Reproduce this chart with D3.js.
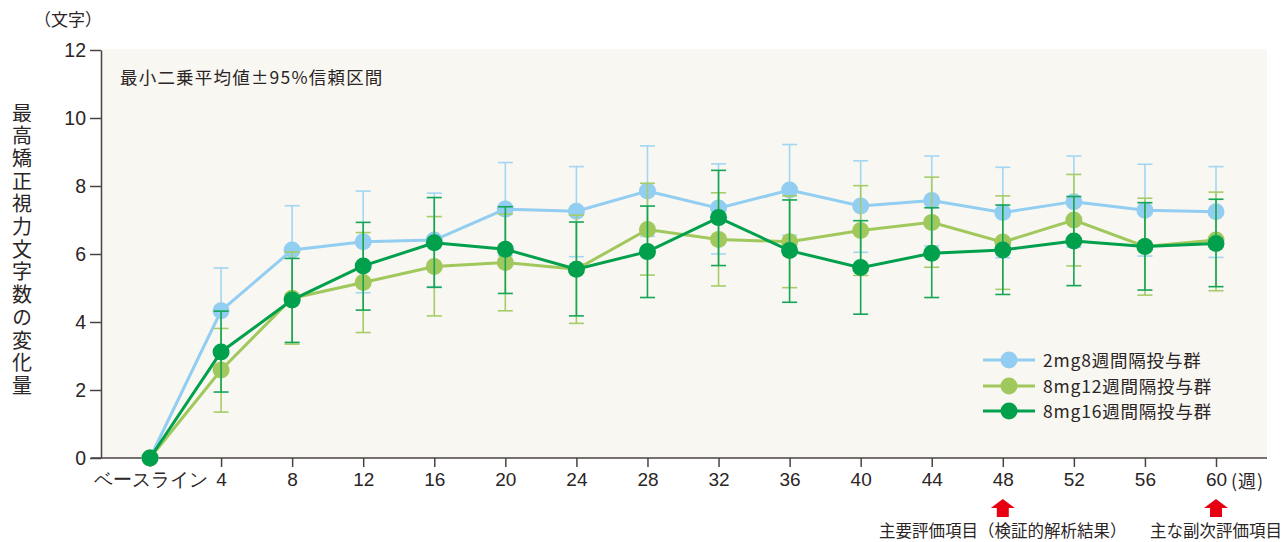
<!DOCTYPE html>
<html>
<head>
<meta charset="utf-8">
<script src="https://cdn.jsdelivr.net/npm/d3@7"></script>
<style>
  body { margin: 0; background: #fff; }
  svg { font-family: "Noto Sans CJK JP", "Noto Sans", sans-serif; }
</style>
</head>
<body>
<div id="chart"></div>
<script>
// weeks (0 = baseline)
var weeks = [0, 4, 8, 12, 16, 20, 24, 28, 32, 36, 40, 44, 48, 52, 56, 60];
var weekLabels = ["ベースライン", "4", "8", "12", "16", "20", "24", "28", "32", "36", "40", "44", "48", "52", "56", "60"];
var yTicks = [0, 2, 4, 6, 8, 10, 12];

var seriesNames = ["2mg8週間隔投与群", "8mg12週間隔投与群", "8mg16週間隔投与群"];

// least squares mean
var mean2mg8 = [0, 4.33, 6.12, 6.36, 6.41, 7.32, 7.26, 7.85, 7.35, 7.88, 7.41, 7.57, 7.22, 7.54, 7.29, 7.24];
var mean8mg12 = [0, 2.59, 4.70, 5.16, 5.63, 5.75, 5.55, 6.72, 6.43, 6.36, 6.69, 6.93, 6.35, 7.00, 6.22, 6.41];
var mean8mg16 = [0, 3.12, 4.65, 5.65, 6.33, 6.14, 5.55, 6.07, 7.07, 6.10, 5.60, 6.02, 6.12, 6.38, 6.22, 6.31];

// 95% CI upper / lower
var upper2mg8 = [0, 5.59, 7.42, 7.85, 7.79, 8.69, 8.57, 9.18, 8.65, 9.22, 8.74, 8.88, 8.55, 8.88, 8.64, 8.57];
var lower2mg8 = [0, 3.08, 4.82, 4.86, 5.04, 5.95, 5.92, 6.52, 6.00, 6.55, 6.05, 6.24, 5.89, 6.20, 5.94, 5.90];
var upper8mg12 = [0, 3.81, 6.06, 6.63, 7.10, 7.17, 7.14, 8.08, 7.80, 7.71, 8.01, 8.26, 7.71, 8.34, 7.64, 7.82];
var lower8mg12 = [0, 1.35, 3.35, 3.69, 4.18, 4.33, 3.96, 5.38, 5.06, 5.01, 5.37, 5.61, 4.96, 5.65, 4.79, 4.92];
var upper8mg16 = [0, 4.32, 5.87, 6.93, 7.66, 7.39, 6.94, 7.41, 8.46, 7.59, 6.98, 7.36, 7.44, 7.69, 7.51, 7.61];
var lower8mg16 = [0, 1.94, 3.40, 4.35, 5.02, 4.84, 4.18, 4.72, 5.66, 4.58, 4.23, 4.72, 4.81, 5.07, 4.94, 5.04];

// evaluation points marked with arrows
var arrowWeeks = [48, 60];
var arrowLabels = ["主要評価項目（検証的解析結果）", "主な副次評価項目"];

var colors = ["#92cef1", "#a0c85c", "#00a04d"];
var barColors = ["#a3d6f3", "#a6cc68", "#14a556"];

var w = 1283, h = 542;
var svg = d3.select("#chart").append("svg")
    .attr("width", w)
    .attr("height", h);

var x = d3.scaleLinear().domain([0, 60]).range([150, 1216]);
var y = d3.scaleLinear().domain([0, 12]).range([458, 50]);
var plotLeft = 101, plotRight = 1267;

// plot background
svg.append("rect")
    .attr("x", plotLeft)
    .attr("y", y(12) - 1)
    .attr("width", plotRight - plotLeft)
    .attr("height", y(0) - y(12) + 1)
    .attr("fill", "#f8f7f1");

var textColor = "#2b2526";

// y axis
var yAxis = d3.axisLeft(y).tickValues(yTicks).tickSize(11).tickSizeOuter(0).tickPadding(4);
var gy = svg.append("g")
    .attr("transform", "translate(" + plotLeft + ",0)")
    .call(yAxis);
gy.select(".domain").attr("stroke", "#4a4344").attr("stroke-width", 1.5);
gy.selectAll(".tick line").attr("stroke", "#4a4344").attr("stroke-width", 1.5);
gy.selectAll(".tick text")
    .attr("fill", textColor)
    .style("font-size", "19.5px");

// x axis
var xAxis = d3.axisBottom(x)
    .tickValues(weeks)
    .tickFormat(function (d, i) { return weekLabels[i]; })
    .tickSize(9)
    .tickSizeOuter(0)
    .tickPadding(6);
var gx = svg.append("g")
    .attr("transform", "translate(0," + y(0) + ")")
    .call(xAxis);
gx.select(".domain").remove();
gx.append("line")
    .attr("x1", plotLeft - 10).attr("x2", plotRight)
    .attr("y1", 0).attr("y2", 0)
    .attr("stroke", "#4a4344").attr("stroke-width", 1.5);
gx.selectAll(".tick line").attr("stroke", "#4a4344").attr("stroke-width", 1.5);
gx.selectAll(".tick text")
    .attr("fill", textColor)
    .style("font-size", "19px");

// unit labels
svg.append("text")
    .attr("x", x(60) + 15)
    .attr("y", 488)
    .attr("fill", textColor)
    .style("font-size", "18px")
    .style("letter-spacing", "1px")
    .text("(週)");

svg.append("text")
    .attr("x", 34)
    .attr("y", 26)
    .attr("fill", textColor)
    .style("font-size", "17px")
    .text("（文字）");

// vertical y label
svg.append("text")
    .attr("x", 22)
    .attr("y", 103)
    .attr("fill", textColor)
    .style("font-size", "20px")
    .style("writing-mode", "vertical-rl")
    .style("letter-spacing", "2.7px")
    .text("最高矯正視力文字数の変化量");

svg.append("text")
    .attr("x", 120)
    .attr("y", 84)
    .attr("fill", textColor)
    .style("font-size", "17.5px")
    .style("letter-spacing", "1.2px")
    .text("最小二乗平均値±95%信頼区間");

// series
var means = [mean2mg8, mean8mg12, mean8mg16];
var uppers = [upper2mg8, upper8mg12, upper8mg16];
var lowers = [lower2mg8, lower8mg12, lower8mg16];

var line = d3.line()
    .x(function (d) { return x(d.week); })
    .y(function (d) { return y(d.value); });

for (var s = 0; s < 3; s++) {
    var rows = weeks.map(function (wk, i) {
        return { week: wk, value: means[s][i], hi: uppers[s][i], lo: lowers[s][i] };
    });
    var g = svg.append("g").attr("class", "series");

    g.append("path")
        .datum(rows)
        .attr("d", line)
        .attr("fill", "none")
        .attr("stroke", colors[s])
        .attr("stroke-width", 3);

    var bars = rows.filter(function (d) { return d.week > 0; });
    var eb = g.selectAll(".err")
        .data(bars)
        .enter()
        .append("g")
        .attr("stroke", barColors[s])
        .attr("stroke-width", 1.6);
    eb.append("line")
        .attr("x1", function (d) { return x(d.week); })
        .attr("x2", function (d) { return x(d.week); })
        .attr("y1", function (d) { return y(d.hi); })
        .attr("y2", function (d) { return y(d.lo); });
    eb.append("line")
        .attr("x1", function (d) { return x(d.week) - 7.5; })
        .attr("x2", function (d) { return x(d.week) + 7.5; })
        .attr("y1", function (d) { return y(d.hi); })
        .attr("y2", function (d) { return y(d.hi); });
    eb.append("line")
        .attr("x1", function (d) { return x(d.week) - 7.5; })
        .attr("x2", function (d) { return x(d.week) + 7.5; })
        .attr("y1", function (d) { return y(d.lo); })
        .attr("y2", function (d) { return y(d.lo); });

    g.selectAll("circle")
        .data(rows)
        .enter()
        .append("circle")
        .attr("cx", function (d) { return x(d.week); })
        .attr("cy", function (d) { return y(d.value); })
        .attr("r", 8.5)
        .attr("fill", colors[s]);
}

// legend
var legend = svg.append("g");
var legendY = [360, 386, 411];
seriesNames.forEach(function (name, i) {
    legend.append("line")
        .attr("x1", 983).attr("x2", 1035)
        .attr("y1", legendY[i]).attr("y2", legendY[i])
        .attr("stroke", colors[i]).attr("stroke-width", 3);
    legend.append("circle")
        .attr("cx", 1009).attr("cy", legendY[i])
        .attr("r", 8.5).attr("fill", colors[i]);
    legend.append("text")
        .attr("x", 1043).attr("y", legendY[i] + 6.5)
        .attr("fill", textColor)
        .style("font-size", "17.5px")
        .style("letter-spacing", "0.8px")
        .text(name);
});

// arrows
arrowWeeks.forEach(function (wk, i) {
    var cx = x(wk);
    var path = d3.path();
    path.moveTo(cx, 499);
    path.lineTo(cx + 12, 508);
    path.lineTo(cx + 6, 508);
    path.lineTo(cx + 6, 517);
    path.lineTo(cx - 6, 517);
    path.lineTo(cx - 6, 508);
    path.lineTo(cx - 12, 508);
    path.closePath();
    svg.append("path").attr("d", path.toString()).attr("fill", "#e60012");
    svg.append("text")
        .attr("x", cx)
        .attr("y", 537)
        .attr("text-anchor", "middle")
        .attr("fill", textColor)
        .style("font-size", "16.5px")
        .text(arrowLabels[i]);
});
</script>
</body>
</html>
